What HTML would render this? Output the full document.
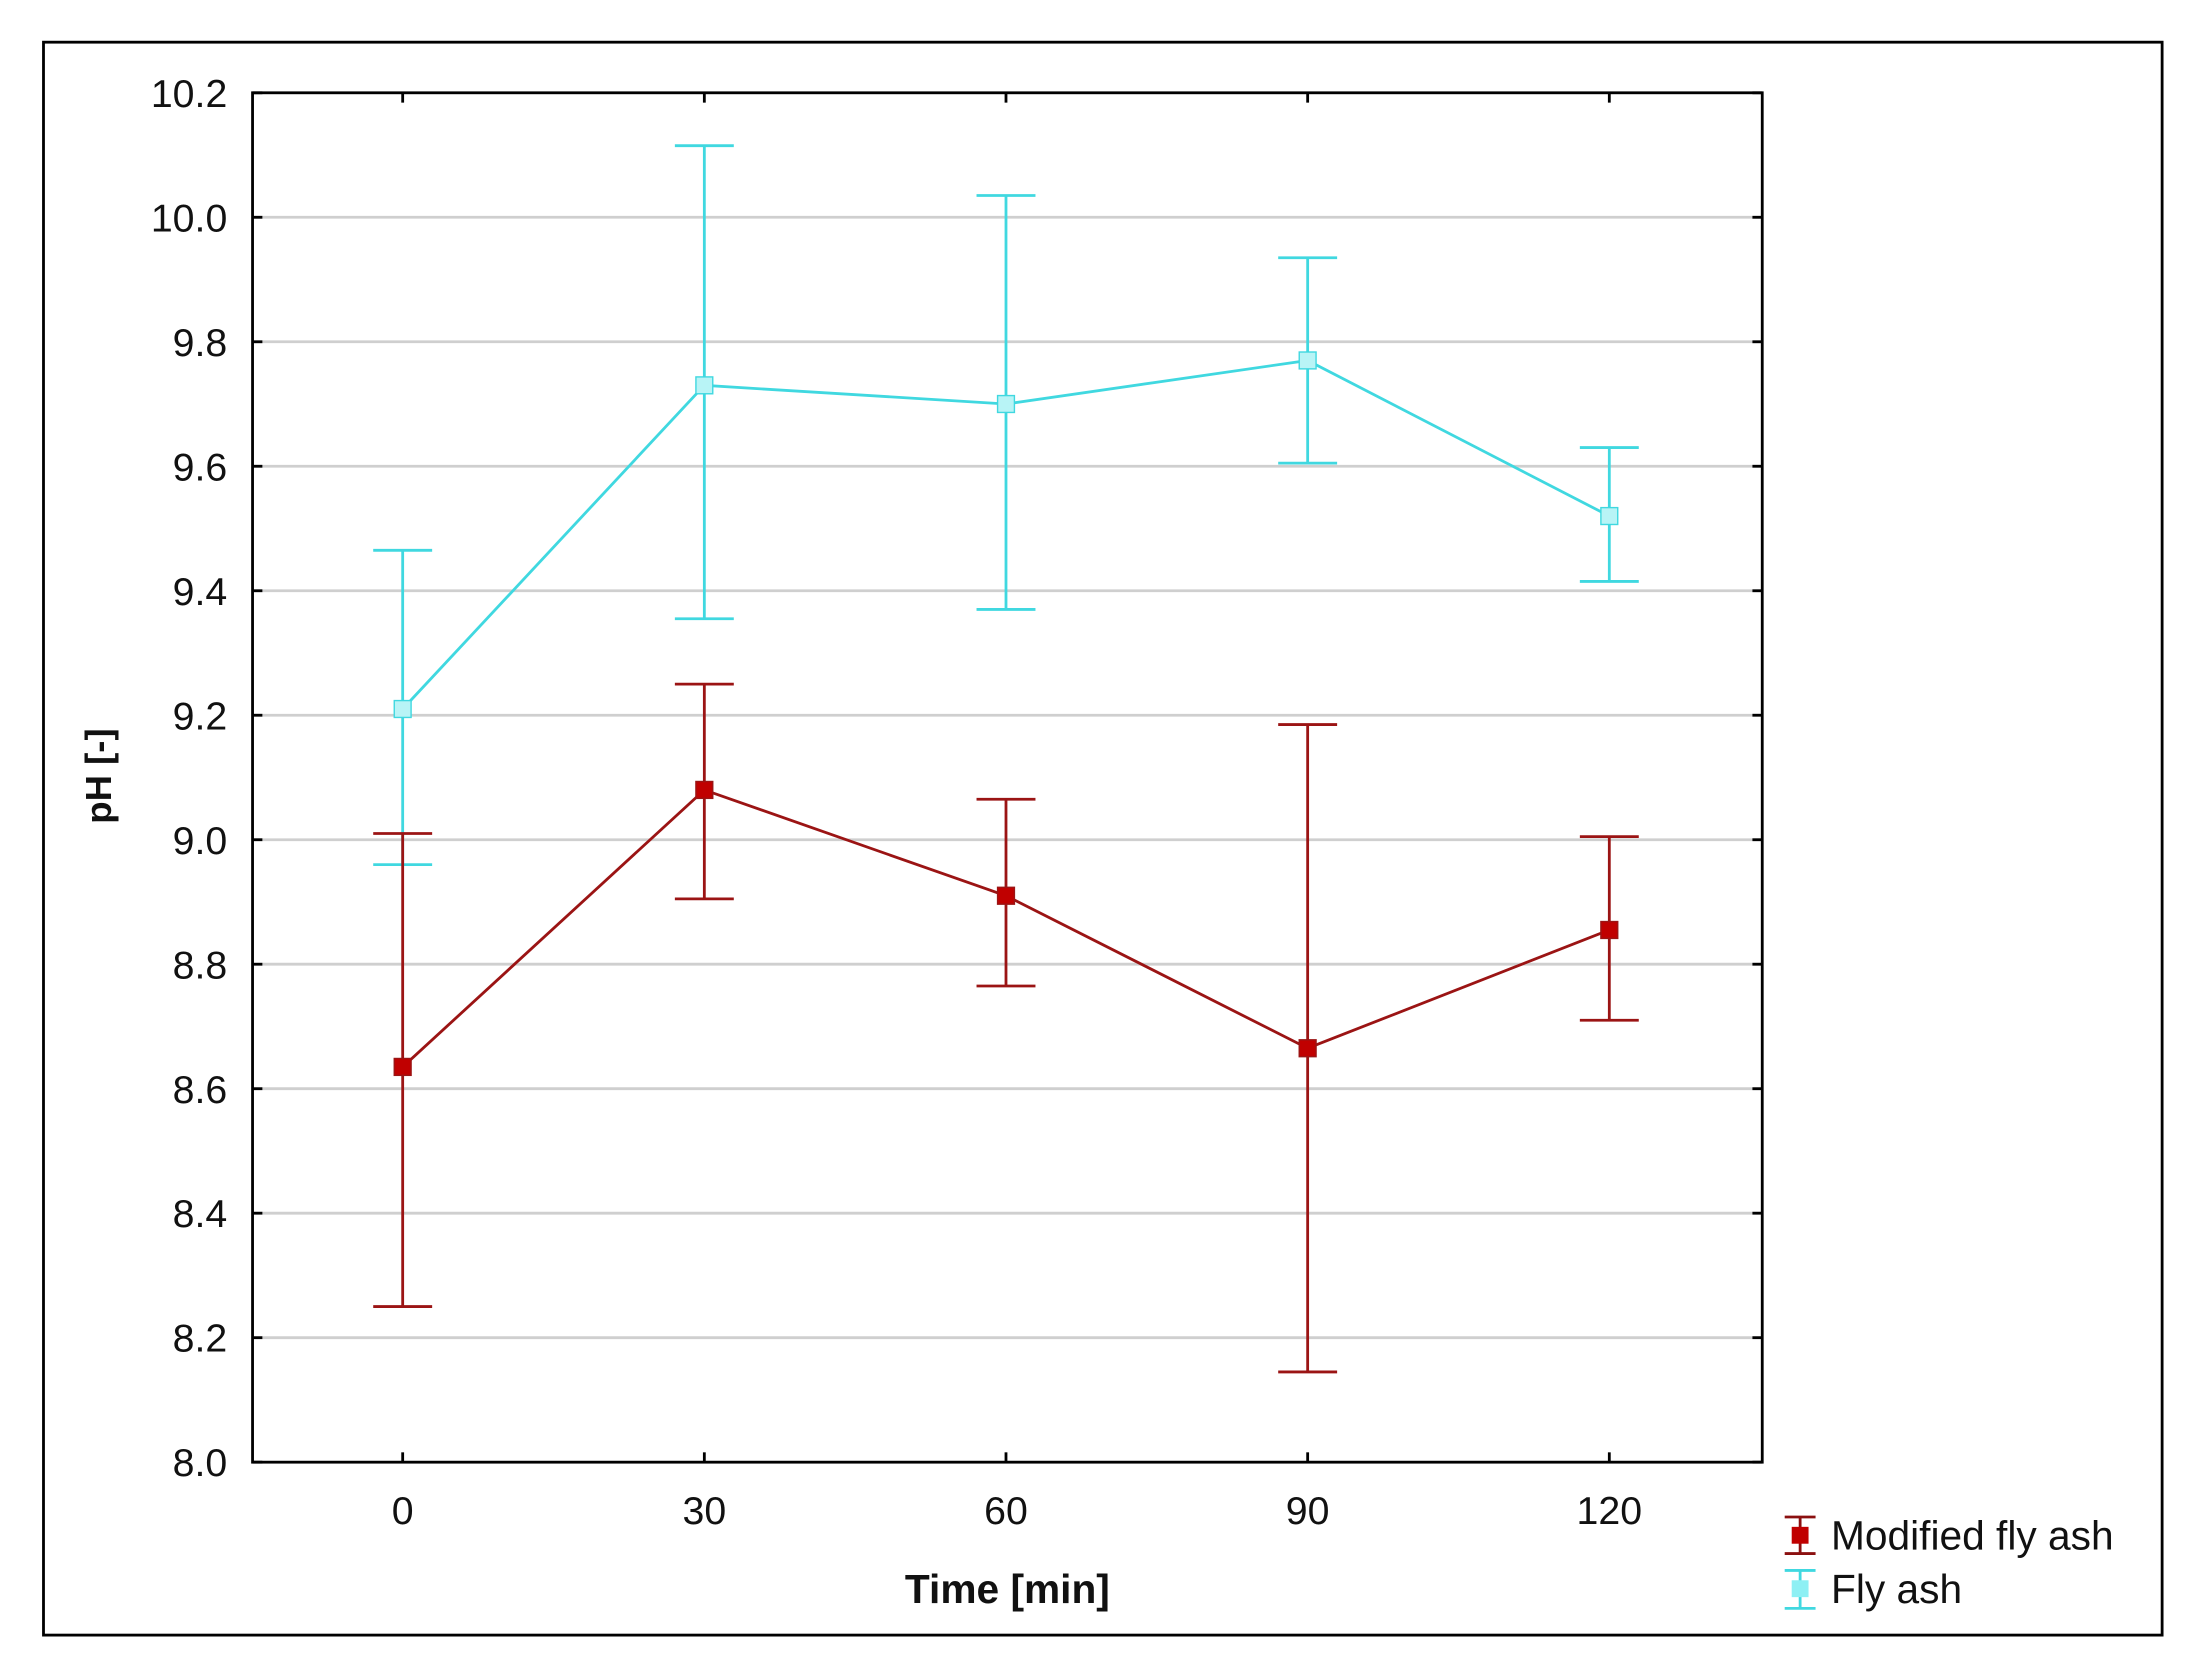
<!DOCTYPE html>
<html><head><meta charset="utf-8"><style>
html,body{margin:0;padding:0;background:#fff;}
svg{display:block;}
text{font-family:"Liberation Sans",Arial,sans-serif;fill:#111;}
</style></head><body>
<svg id="chart" width="2200" height="1659" viewBox="0 0 1568 1180" preserveAspectRatio="none" xmlns="http://www.w3.org/2000/svg">
<rect x="31" y="30" width="1510" height="1133" fill="#fff" stroke="#000" stroke-width="2"/>
<g id="grid"></g>
<g id="series"></g>
<rect x="180" y="66" width="1076" height="974" fill="none" stroke="#000" stroke-width="2"/>
<g id="axes"></g>
<text transform="translate(79,552) rotate(-90)" text-anchor="middle" font-size="26" font-weight="bold">pH [-]</text>
<text x="718" y="1140" text-anchor="middle" font-size="29" font-weight="bold">Time [min]</text>
<g>
 <g>
  <line x1="1272" y1="1079" x2="1294" y2="1079" stroke="#8b1010" stroke-width="2"/>
  <line x1="1272" y1="1105" x2="1294" y2="1105" stroke="#8b1010" stroke-width="2"/>
  <line x1="1283" y1="1079" x2="1283" y2="1105" stroke="#8b1010" stroke-width="2"/>
  <rect x="1277" y="1086" width="12" height="12" fill="#c00000"/>
  <text x="1305" y="1102" font-size="29">Modified fly ash</text>
 </g>
 <g>
  <line x1="1272" y1="1117" x2="1294" y2="1117" stroke="#40d8e0" stroke-width="2"/>
  <line x1="1272" y1="1144" x2="1294" y2="1144" stroke="#40d8e0" stroke-width="2"/>
  <line x1="1283" y1="1117" x2="1283" y2="1144" stroke="#40d8e0" stroke-width="2"/>
  <rect x="1277" y="1124" width="12" height="12" fill="#8ef0f4"/>
  <text x="1305" y="1140" font-size="29">Fly ash</text>
 </g>
</g>
</svg>
<script>
const categories=[0,30,60,90,120];
const yTicks=[8.0,8.2,8.4,8.6,8.8,9.0,9.2,9.4,9.6,9.8,10.0,10.2];
const flyMean=[9.21,9.73,9.70,9.77,9.52];
const flyUpper=[9.465,10.115,10.035,9.935,9.63];
const flyLower=[8.96,9.355,9.37,9.605,9.415];
const modMean=[8.635,9.08,8.91,8.665,8.855];
const modUpper=[9.01,9.25,9.065,9.185,9.005];
const modLower=[8.25,8.905,8.765,8.145,8.71];
const NS="http://www.w3.org/2000/svg";
function xs(v){return 287+(v-0)*(1147-287)/120;}
function ys(v){return 1040-(v-8.0)*(1040-66)/2.2;}
function mk(tag,attrs,parent){const e=document.createElementNS(NS,tag);for(const k in attrs)e.setAttribute(k,attrs[k]);parent.appendChild(e);return e;}
const grid=document.getElementById('grid'),axes=document.getElementById('axes'),ser=document.getElementById('series');
yTicks.forEach(t=>{
 const y=ys(t);
 if(t>8.0&&t<10.2){const g=mk('line',{x1:180,x2:1256,y1:y,y2:y,stroke:'#cfcfcf','stroke-width':2},grid);
 
 }
 mk('line',{x1:180,x2:187,y1:y,y2:y,stroke:'#000','stroke-width':2},axes);
 mk('line',{x1:1249,x2:1256,y1:y,y2:y,stroke:'#000','stroke-width':2},axes);
 const l=mk('text',{x:162,y:y+10,'text-anchor':'end','font-size':28},axes);
 l.textContent=t.toFixed(1);
 
 
});
categories.forEach(c=>{
 const x=xs(c);
 mk('line',{x1:x,x2:x,y1:1040,y2:1033,stroke:'#000','stroke-width':2},axes);
 mk('line',{x1:x,x2:x,y1:66,y2:73,stroke:'#000','stroke-width':2},axes);
 const l=mk('text',{x:x,y:1084,'text-anchor':'middle','font-size':28},axes);
 l.textContent=c;
 
 
});
function drawSeries(mean,up,lo,col,fill,name){
 const g=mk('g',{},ser);
 
 
 mk('polyline',{points:categories.map((c,i)=>xs(c)+','+ys(mean[i])).join(' '),fill:'none',stroke:col,'stroke-width':2},g);
 categories.forEach((c,i)=>{
  const x=xs(c);
  const eb=mk('g',{},g);
  
  
  mk('line',{x1:x,x2:x,y1:ys(up[i]),y2:ys(lo[i]),stroke:col,'stroke-width':2},eb);
  mk('line',{x1:x-21,x2:x+21,y1:ys(up[i]),y2:ys(up[i]),stroke:col,'stroke-width':2},eb);
  mk('line',{x1:x-21,x2:x+21,y1:ys(lo[i]),y2:ys(lo[i]),stroke:col,'stroke-width':2},eb);
  const p=mk('rect',{x:x-6,y:ys(mean[i])-6,width:12,height:12,fill:fill,stroke:col,'stroke-width':1},g);
  
  
 });
}
drawSeries(flyMean,flyUpper,flyLower,'#40d8e0','#b8f4f6','fly-ash');
drawSeries(modMean,modUpper,modLower,'#9b1414','#c00000','modified-fly-ash');
</script>
</body></html>
